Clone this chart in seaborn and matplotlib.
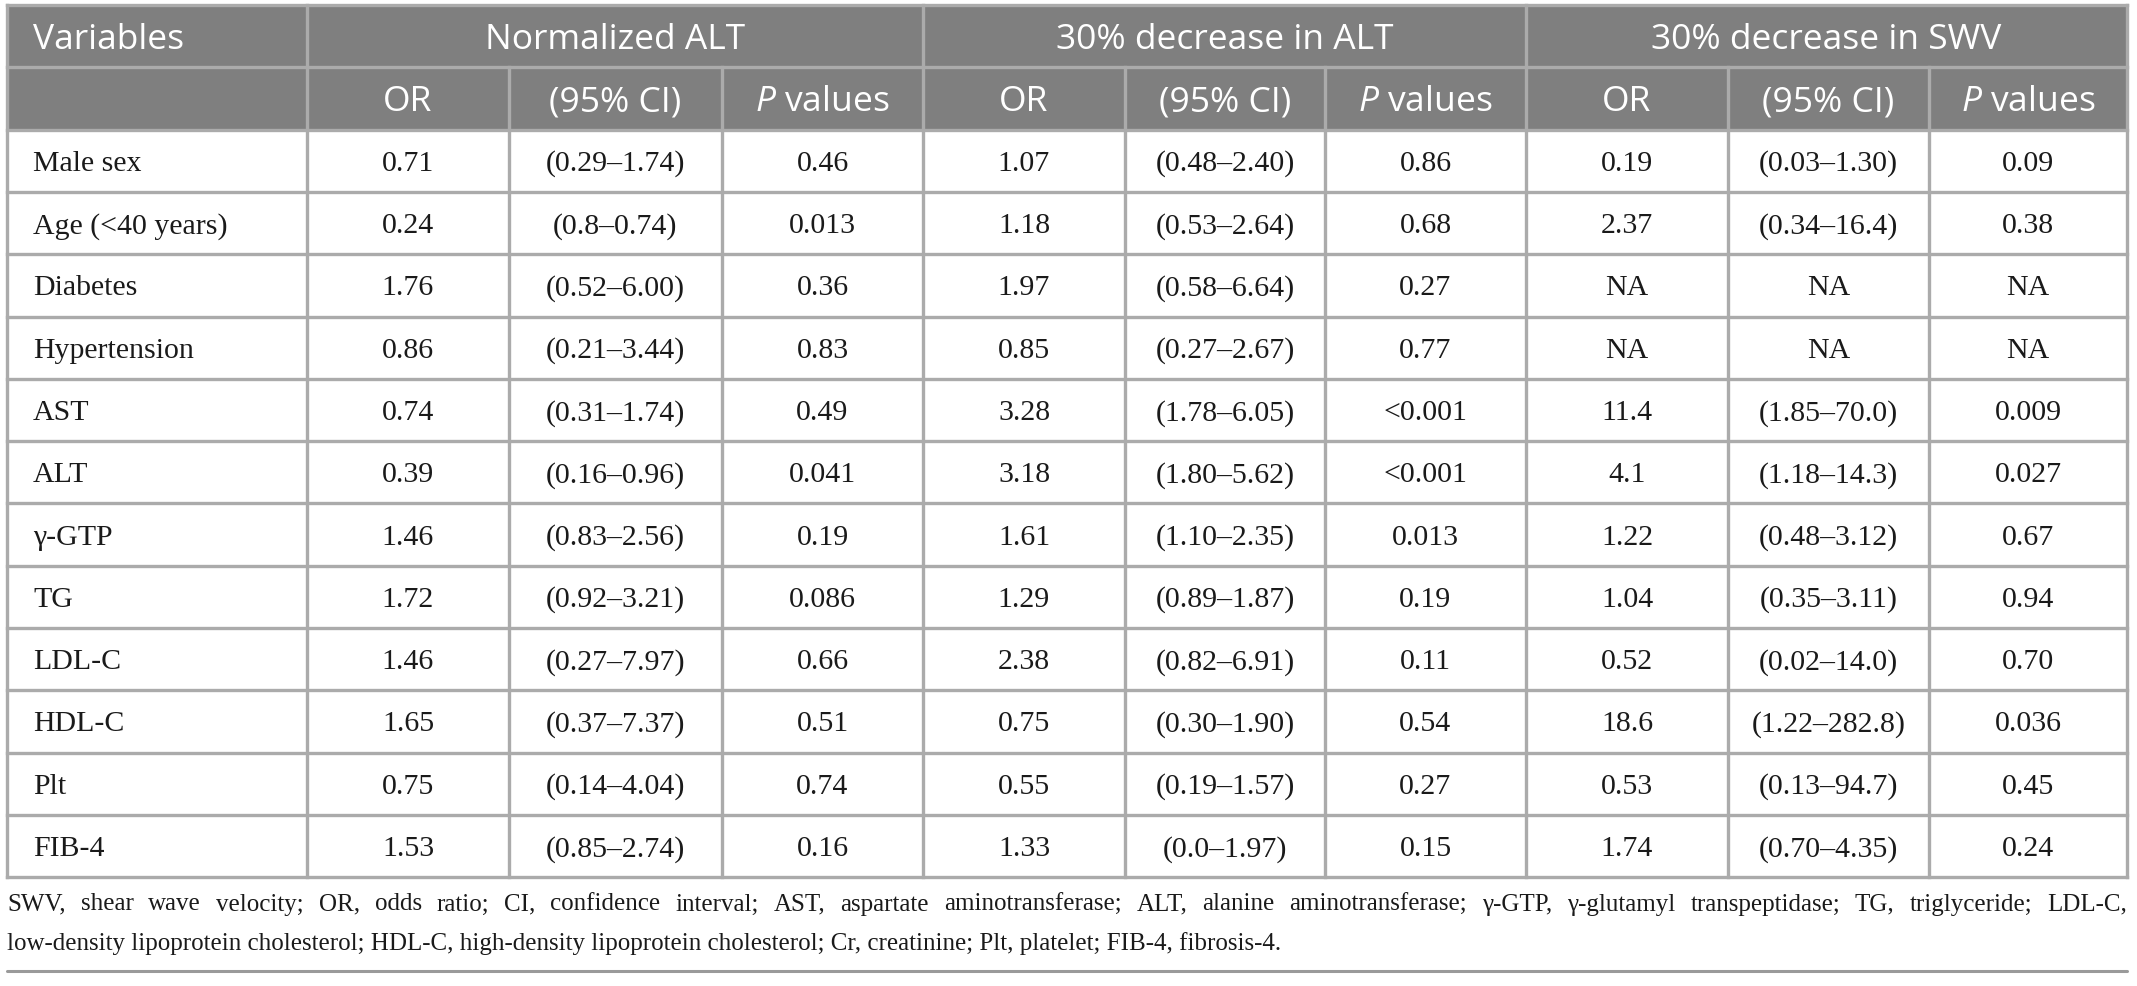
import pandas as pd
import matplotlib
matplotlib.use("Agg")
import matplotlib.pyplot as plt
import seaborn as sns

# table content
variables = ["Male sex", "Age (<40 years)", "Diabetes", "Hypertension", "AST", "ALT",
             "γ-GTP", "TG", "LDL-C", "HDL-C", "Plt", "FIB-4"]

norm_or = ["0.71", "0.24", "1.76", "0.86", "0.74", "0.39", "1.46", "1.72", "1.46", "1.65", "0.75", "1.53"]
norm_ci = ["(0.29–1.74)", "(0.8–0.74)", "(0.52–6.00)", "(0.21–3.44)", "(0.31–1.74)", "(0.16–0.96)",
           "(0.83–2.56)", "(0.92–3.21)", "(0.27–7.97)", "(0.37–7.37)", "(0.14–4.04)", "(0.85–2.74)"]
norm_p = ["0.46", "0.013", "0.36", "0.83", "0.49", "0.041", "0.19", "0.086", "0.66", "0.51", "0.74", "0.16"]

alt_or = ["1.07", "1.18", "1.97", "0.85", "3.28", "3.18", "1.61", "1.29", "2.38", "0.75", "0.55", "1.33"]
alt_ci = ["(0.48–2.40)", "(0.53–2.64)", "(0.58–6.64)", "(0.27–2.67)", "(1.78–6.05)", "(1.80–5.62)",
          "(1.10–2.35)", "(0.89–1.87)", "(0.82–6.91)", "(0.30–1.90)", "(0.19–1.57)", "(0.0–1.97)"]
alt_p = ["0.86", "0.68", "0.27", "0.77", "<0.001", "<0.001", "0.013", "0.19", "0.11", "0.54", "0.27", "0.15"]

swv_or = ["0.19", "2.37", "NA", "NA", "11.4", "4.1", "1.22", "1.04", "0.52", "18.6", "0.53", "1.74"]
swv_ci = ["(0.03–1.30)", "(0.34–16.4)", "NA", "NA", "(1.85–70.0)", "(1.18–14.3)",
          "(0.48–3.12)", "(0.35–3.11)", "(0.02–14.0)", "(1.22–282.8)", "(0.13–94.7)", "(0.70–4.35)"]
swv_p = ["0.09", "0.38", "NA", "NA", "0.009", "0.027", "0.67", "0.94", "0.70", "0.036", "0.45", "0.24"]

groups = ["Normalized ALT", "30% decrease in ALT", "30% decrease in SWV"]
sub_headers = ["OR", "(95% CI)", "$P$ values"]

footnote_1 = ("SWV, shear wave velocity; OR, odds ratio; CI, confidence interval; AST, aspartate "
              "aminotransferase; ALT, alanine aminotransferase; γ-GTP, γ-glutamyl transpeptidase; "
              "TG, triglyceride; LDL-C,")
footnote_2 = ("low-density lipoprotein cholesterol; HDL-C, high-density lipoprotein cholesterol; "
              "Cr, creatinine; Plt, platelet; FIB-4, fibrosis-4.")

df = pd.DataFrame({
    "var": variables,
    "n_or": norm_or, "n_ci": norm_ci, "n_p": norm_p,
    "a_or": alt_or, "a_ci": alt_ci, "a_p": alt_p,
    "s_or": swv_or, "s_ci": swv_ci, "s_p": swv_p,
})

# layout (pixels)
W, H = 2137, 986
col_edges = [7, 307, 509, 722, 923, 1125, 1325, 1526, 1728, 1929, 2127]
top = 5
row_h = 62.3
n_rows = len(variables) + 2
bottom = top + n_rows * row_h
header_bg = "#7f7f7f"
line_col = "#ababab"
lw = 2.4

sns.set_theme(style="white")
plt.rcParams["mathtext.fontset"] = "custom"
plt.rcParams["mathtext.it"] = "Open Sans:italic"
plt.rcParams["mathtext.rm"] = "Open Sans"

fig = plt.figure(figsize=(W / 100, H / 100), dpi=100)
ax = fig.add_axes([0, 0, 1, 1])
ax.set_xlim(0, W)
ax.set_ylim(H, 0)
ax.axis("off")

# header background
ax.add_patch(plt.Rectangle((col_edges[0], top), col_edges[-1] - col_edges[0], 2 * row_h,
                           facecolor=header_bg, edgecolor="none", zorder=1))

head_font = dict(family="Open Sans", fontsize=25.5, color="white")
body_font = dict(family="Liberation Serif", fontsize=21.5, color="#1a1a1a")

# header row 1
y1 = top + row_h / 2
ax.text(33, y1, "Variables", ha="left", va="center_baseline", zorder=3, **head_font)
for g, name in enumerate(groups):
    x0, x1 = col_edges[1 + 3 * g], col_edges[4 + 3 * g]
    ax.text((x0 + x1) / 2, y1, name, ha="center", va="center_baseline", zorder=3, **head_font)

# header row 2
y2 = top + 1.5 * row_h
for c in range(9):
    x0, x1 = col_edges[1 + c], col_edges[2 + c]
    ax.text((x0 + x1) / 2, y2, sub_headers[c % 3], ha="center", va="center_baseline",
            zorder=3, **head_font)

# body
cols = df.columns.tolist()
for r, row in df.iterrows():
    yc = top + (r + 2.5) * row_h
    ax.text(33, yc, row["var"], ha="left", va="center_baseline", zorder=3, **body_font)
    for c, key in enumerate(cols[1:]):
        x0, x1 = col_edges[1 + c], col_edges[2 + c]
        ax.text((x0 + x1) / 2, yc, row[key], ha="center", va="center_baseline", zorder=3, **body_font)

# grid lines
for i in range(n_rows + 1):
    y = top + i * row_h
    ax.plot([col_edges[0], col_edges[-1]], [y, y], color=line_col, lw=lw, zorder=2,
            solid_capstyle="projecting")
for j, x in enumerate(col_edges):
    y_start = top if j in (0, 1, 4, 7, 10) else top + row_h
    ax.plot([x, x], [y_start, bottom], color=line_col, lw=lw, zorder=2,
            solid_capstyle="projecting")

# footnote, first line justified to the table width
foot_font = dict(family="Liberation Serif", fontsize=18.0, color="#1a1a1a")
fig.canvas.draw()
renderer = fig.canvas.get_renderer()
words = footnote_1.split(" ")
widths = []
for w in words:
    t = ax.text(0, 0, w, **foot_font)
    widths.append(t.get_window_extent(renderer).width)
    t.remove()
gap = (col_edges[-1] - col_edges[0] - sum(widths)) / (len(words) - 1)
x = col_edges[0]
for w, wd in zip(words, widths):
    ax.text(x, 902, w, ha="left", va="center_baseline", **foot_font)
    x += wd + gap
ax.text(col_edges[0], 941, footnote_2, ha="left", va="center_baseline", **foot_font)

ax.plot([col_edges[0], col_edges[-1]], [971, 971], color="#9a9a9a", lw=2.2)

fig.savefig("out.png", dpi=100)
